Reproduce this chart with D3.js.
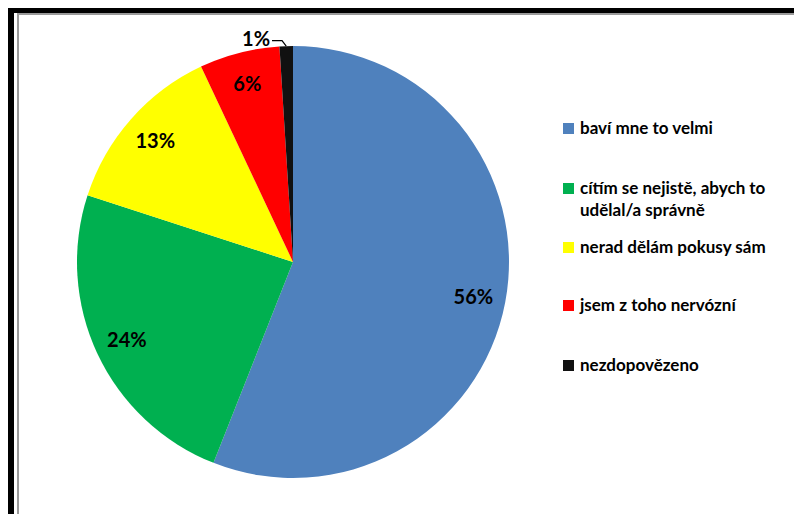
<!DOCTYPE html>
<html>
<head>
<meta charset="utf-8">
<script src="https://cdn.jsdelivr.net/npm/d3@7/dist/d3.min.js"></script>
<style>
  html, body { margin: 0; padding: 0; background: #fff; }
  svg { display: block; }
  text { font-family: Lato, "Open Sans", sans-serif; font-weight: bold; fill: #000; }
</style>
</head>
<body>
<svg id="chart" width="794" height="514"></svg>
<script>
// Odpovědi (v procentech), v pořadí výsečí po směru hodinových ručiček od vrcholu
const categories = [
  "baví mne to velmi",
  "cítím se nejistě, abych to udělal/a správně",
  "nerad dělám pokusy sám",
  "jsem z toho nervózní",
  "nezdopovězeno"
];
const values = [56, 24, 13, 6, 1];
const colors = ["#4F81BD", "#00B050", "#FFFF00", "#FF0000", "#111111"];
// Legenda: řádky textu pro každou položku
const legendLines = [
  ["baví mne to velmi"],
  ["cítím se nejistě, abych to", "udělal/a správně"],
  ["nerad dělám pokusy sám"],
  ["jsem z toho nervózní"],
  ["nezdopovězeno"]
];

const W = 794, H = 514;
const svg = d3.select("#chart");

svg.append("rect").attr("width", W).attr("height", H).attr("fill", "#fff");

// Rámeček grafu: silná černá linka nahoře a vlevo, pod ní šedá linka
svg.append("rect").attr("x", 8).attr("y", 8).attr("width", W - 8).attr("height", 5).attr("fill", "#000");
svg.append("rect").attr("x", 8).attr("y", 8).attr("width", 6).attr("height", H - 8).attr("fill", "#000");
svg.append("rect").attr("x", 17).attr("y", 13).attr("width", W - 17).attr("height", 2).attr("fill", "#9a9a9a");
svg.append("rect").attr("x", 17).attr("y", 13).attr("width", 2).attr("height", H - 13).attr("fill", "#9a9a9a");

// Koláč
const cx = 293, cy = 262, r = 216;
const data = categories.map((c, i) => ({ cat: c, value: values[i], color: colors[i] }));

const pie = d3.pie().value(d => d.value).sort(null).startAngle(0).endAngle(2 * Math.PI);
const arcs = pie(data);
const arc = d3.arc().innerRadius(0).outerRadius(r);
const labelArc = d3.arc().innerRadius(r * 0.85).outerRadius(r * 0.85);

const g = svg.append("g").attr("transform", `translate(${cx},${cy})`);

g.selectAll("path.slice")
  .data(arcs)
  .join("path")
  .attr("class", "slice")
  .attr("d", arc)
  .attr("fill", d => d.data.color);

// Popisky hodnot
const smallThreshold = 3;
g.selectAll("text.val")
  .data(arcs.filter(d => d.data.value >= smallThreshold))
  .join("text")
  .attr("class", "val")
  .attr("transform", d => `translate(${labelArc.centroid(d)})`)
  .attr("text-anchor", "middle")
  .attr("dy", "0.36em")
  .style("font-size", "20px")
  .text(d => d.data.value + "%");

// Malé výseče: popisek vně s vodicí čarou
arcs.filter(d => d.data.value < smallThreshold).forEach(d => {
  const a = (d.startAngle + d.endAngle) / 2;
  const px = r * Math.sin(a), py = -r * Math.cos(a);
  const ex = (r + 6) * Math.sin(a) - 4, ey = -(r + 6) * Math.cos(a) + 0.5;
  const hx = ex - 10;
  g.append("path")
    .attr("d", `M${px},${py} L${ex},${ey} L${hx},${ey}`)
    .attr("fill", "none")
    .attr("stroke", "#000")
    .attr("stroke-width", 1.2);
  g.append("text")
    .attr("x", hx - 2)
    .attr("y", ey - 1)
    .attr("dy", "0.3em")
    .attr("text-anchor", "end")
    .style("font-size", "20px")
    .text(d.data.value + "%");
});

// Legenda
const legendX = 563;
const rowY = [128, 188, 247, 305, 365];
const lineH = 22;
const leg = svg.append("g");
legendLines.forEach((lines, i) => {
  leg.append("rect")
    .attr("x", legendX)
    .attr("y", rowY[i] - 5)
    .attr("width", 11)
    .attr("height", 11)
    .attr("fill", colors[i]);
  lines.forEach((t, j) => {
    leg.append("text")
      .attr("x", legendX + 17)
      .attr("y", rowY[i] + j * lineH)
      .attr("dy", "0.35em")
      .style("font-size", "17px")
      .text(t);
  });
});
</script>
</body>
</html>
